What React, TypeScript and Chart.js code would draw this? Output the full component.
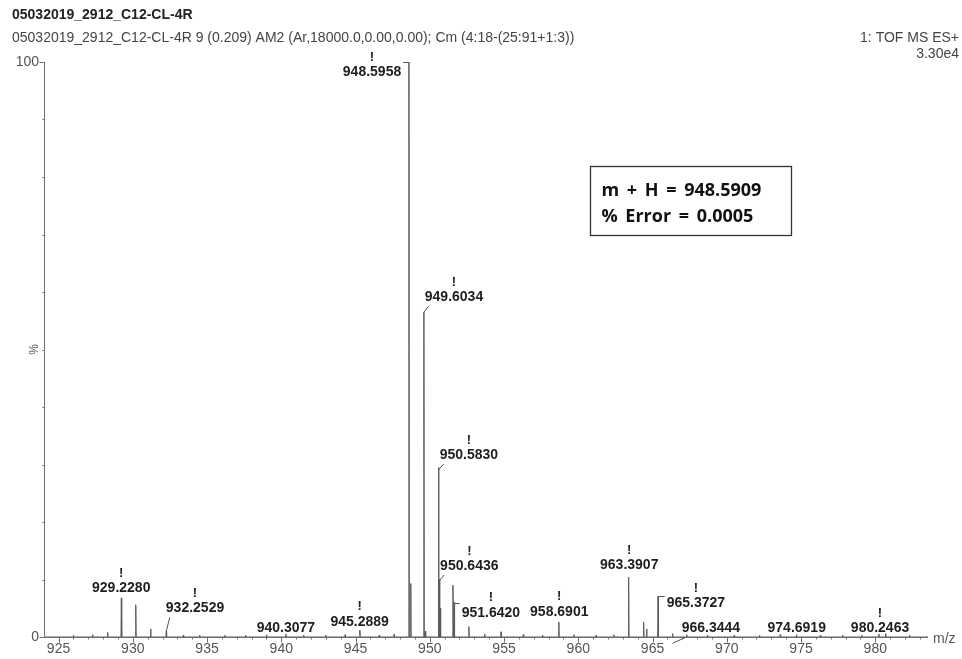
import React, { useEffect, useRef } from "react";
import { Chart, registerables } from "chart.js";

Chart.register(...registerables);

// ---------- text ----------
const titleText = "05032019_2912_C12-CL-4R";
const subtitleText =
  "05032019_2912_C12-CL-4R 9 (0.209) AM2 (Ar,18000.0,0.00,0.00); Cm (4:18-(25:91+1:3))";
const instrumentText = "1: TOF MS ES+";
const scaleText = "3.30e4";
const boxLines = ["m + H = 948.5909", "% Error = 0.0005"];
const xAxisTitle = "m/z";
const yAxisTitle = "%";

// ---------- axes ----------
const xMin = 924.02;
const xMax = 983.55;
const xTickLabels = [925, 930, 935, 940, 945, 950, 955, 960, 965, 970, 975, 980];
const yTickLabels = [0, 100];

// ---------- labelled peaks ----------
const labeledMz = [
  948.5958, 949.6034, 950.583, 950.6436, 951.642, 929.228, 932.2529, 940.3077,
  945.2889, 958.6901, 963.3907, 965.3727, 966.3444, 974.6919, 980.2463,
];
const labeledIntensity = [
  100, 56.5, 29.5, 10.0, 6.0, 6.8, 1.0, 0.5, 1.2, 2.6, 10.4, 7.1, 0.6, 0.4, 0.5,
];
// where each label sits (data units) and how it is tied to its peak
const labelMz = [
  946.11, 951.63, 952.63, 952.66, 954.11, 929.22, 934.19, 940.31, 945.28, 958.72,
  963.43, 967.92, 968.93, 974.71, 980.32,
];
const labelPct = [
  98.26, 59.13, 31.65, 12.35, 4.23, 8.47, 4.99, 1.51, 2.66, 4.4, 12.52, 5.86, 1.51,
  1.51, 1.51,
];
const labelBang = [1, 1, 1, 1, 1, 1, 1, 0, 1, 1, 1, 1, 0, 0, 1];
const labelLink = [
  "left", "diag", "diag", "diag", "right", "none", "diag", "none", "none", "none",
  "none", "right", "diag", "none", "none",
];

// ---------- unlabelled peaks / baseline bumps ----------
const minorMz = [
  926.0, 927.3, 928.3, 930.2, 931.2, 933.4, 934.5, 936.2, 937.6, 939.0, 941.5, 943.0,
  944.3, 946.6, 947.6, 948.72, 949.7, 950.72, 951.56, 952.63, 953.7, 954.8, 956.3,
  957.6, 959.7, 961.2, 962.4, 964.4, 964.6, 967.3, 968.7, 970.5, 972.2, 973.6, 976.3,
  977.8, 979.1, 980.7, 982.3,
];
const minorIntensity = [
  0.3, 0.4, 0.8, 5.6, 1.4, 0.3, 0.3, 0.3, 0.3, 0.4, 0.3, 0.3, 0.4, 0.3, 0.5, 9.3, 1.0,
  5.0, 9.0, 1.8, 0.5, 0.9, 0.4, 0.3, 0.4, 0.3, 0.4, 2.6, 1.4, 0.4, 0.3, 0.3, 0.3, 0.4,
  0.3, 0.3, 0.3, 0.6, 0.3,
];

const FONT = '"Liberation Sans", Arial, sans-serif';

function buildSpectrum() {
  const peaks: { x: number; y: number }[] = [];
  labeledMz.forEach((m, i) => peaks.push({ x: m, y: labeledIntensity[i] }));
  minorMz.forEach((m, i) => peaks.push({ x: m, y: minorIntensity[i] }));
  peaks.sort((a, b) => a.x - b.x);
  const pts: { x: number; y: number }[] = [{ x: xMin, y: 0 }];
  const hw = 0.025;
  peaks.forEach((p) => {
    pts.push({ x: p.x - hw, y: 0 });
    pts.push({ x: p.x, y: p.y });
    pts.push({ x: p.x + hw, y: 0 });
  });
  pts.push({ x: xMax, y: 0 });
  return pts;
}

const overlayPlugin = {
  id: "msOverlay",
  afterDraw(chart: any) {
    const ctx: CanvasRenderingContext2D = chart.ctx;
    const xs = chart.scales.x;
    const ys = chart.scales.y;
    const a = chart.chartArea;
    ctx.save();

    // axes lines
    ctx.strokeStyle = "#6f6f6f";
    ctx.lineWidth = 1;
    ctx.beginPath();
    ctx.moveTo(a.left + 0.5, a.top);
    ctx.lineTo(a.left + 0.5, a.bottom + 0.5);
    ctx.lineTo(a.right, a.bottom + 0.5);
    ctx.stroke();

    // y ticks
    ctx.beginPath();
    for (let v = 0; v <= 100; v += 10) {
      const y = Math.round(ys.getPixelForValue(v)) + 0.5;
      const len = v === 0 || v === 100 ? 5 : 2;
      ctx.moveTo(a.left + 0.5 - len, y);
      ctx.lineTo(a.left + 0.5, y);
    }
    // x ticks
    for (let v = Math.ceil(xMin); v <= xMax; v++) {
      const x = Math.round(xs.getPixelForValue(v)) + 0.5;
      const len = v % 5 === 0 ? 5 : 2;
      ctx.moveTo(x, a.bottom + 0.5);
      ctx.lineTo(x, a.bottom + 0.5 + len);
    }
    ctx.stroke();

    // tick labels
    ctx.fillStyle = "#555";
    ctx.font = `14px ${FONT}`;
    ctx.textAlign = "right";
    ctx.textBaseline = "middle";
    yTickLabels.forEach((v) => ctx.fillText(String(v), a.left - 5, ys.getPixelForValue(v)));
    ctx.textAlign = "center";
    ctx.textBaseline = "top";
    xTickLabels.forEach((v) => ctx.fillText(String(v), xs.getPixelForValue(v), a.bottom + 5));
    ctx.textAlign = "left";
    ctx.textBaseline = "middle";
    ctx.fillText(xAxisTitle, a.right + 5, a.bottom + 2);

    // % title
    ctx.save();
    ctx.translate(a.left - 9, (a.top + a.bottom) / 2);
    ctx.rotate(-Math.PI / 2);
    ctx.font = `12px ${FONT}`;
    ctx.textAlign = "center";
    ctx.textBaseline = "middle";
    ctx.fillText(yAxisTitle, 0, 0);
    ctx.restore();

    // header
    ctx.fillStyle = "#222";
    ctx.font = `bold 14px ${FONT}`;
    ctx.textAlign = "left";
    ctx.textBaseline = "middle";
    ctx.fillText(titleText, 12, 15);
    ctx.fillStyle = "#444";
    ctx.font = `14px ${FONT}`;
    ctx.fillText(subtitleText, 12, 38);
    ctx.textAlign = "right";
    ctx.fillText(instrumentText, 959, 38);
    ctx.fillText(scaleText, 959, 54);

    // peak labels
    labeledMz.forEach((m, i) => {
      const text = m.toFixed(4);
      ctx.font = `bold 14px ${FONT}`;
      const px = xs.getPixelForValue(labelMz[i]);
      const py = ys.getPixelForValue(labelPct[i]);
      const w = ctx.measureText(text).width;
      const peakX = xs.getPixelForValue(m);
      const peakY = ys.getPixelForValue(labeledIntensity[i]);
      ctx.fillStyle = "#1e1e1e";
      ctx.textAlign = "center";
      ctx.textBaseline = "middle";
      ctx.fillText(text, px, py);
      if (labelBang[i]) {
        ctx.font = `bold 13px ${FONT}`;
        ctx.fillText("!", px, py - 15);
      }
      ctx.strokeStyle = "#555";
      ctx.lineWidth = 1;
      const link = labelLink[i];
      ctx.beginPath();
      if (link === "left") {
        const y = Math.round(peakY) + 0.5;
        ctx.moveTo(px + w / 2 + 2, y);
        ctx.lineTo(peakX, y);
      } else if (link === "right") {
        const y = Math.round(peakY) + 0.5;
        ctx.moveTo(peakX, y);
        ctx.lineTo(px - w / 2 - 2, y);
      } else if (link === "diag") {
        ctx.moveTo(px - w / 2 + 4, py + 9);
        ctx.lineTo(peakX, Math.max(peakY, py + 15));
      }
      ctx.stroke();
    });

    // result box
    const bx1 = xs.getPixelForValue(960.82);
    const bx2 = xs.getPixelForValue(974.36);
    const by1 = ys.getPixelForValue(82.0);
    const by2 = ys.getPixelForValue(70.0);
    ctx.fillStyle = "#fff";
    ctx.fillRect(bx1, by1, bx2 - bx1, by2 - by1);
    ctx.strokeStyle = "#333";
    ctx.lineWidth = 1.3;
    ctx.strokeRect(Math.round(bx1) + 0.5, Math.round(by1) + 0.5, Math.round(bx2 - bx1), Math.round(by2 - by1));
    ctx.fillStyle = "#111";
    ctx.font = `bold 18px "Open Sans", ${FONT}`;
    ctx.textAlign = "left";
    ctx.textBaseline = "middle";
    (ctx as any).wordSpacing = "3px";
    const lh = (by2 - by1) / 2.6;
    ctx.fillText(boxLines[0], bx1 + 11, by1 + lh * 0.95);
    ctx.fillText(boxLines[1], bx1 + 11, by1 + lh * 1.95);
    (ctx as any).wordSpacing = "0px";

    ctx.restore();
  },
};

export default function App() {
  const ref = useRef<HTMLCanvasElement>(null);
  useEffect(() => {
    const canvas = ref.current!;
    const chart = new Chart(canvas, {
      type: "line",
      data: {
        datasets: [
          {
            data: buildSpectrum(),
            borderColor: "#5a5a5a",
            borderWidth: 1,
            pointRadius: 0,
            tension: 0,
            fill: false,
          },
        ],
      },
      options: {
        animation: false,
        responsive: false,
        devicePixelRatio: 1,
        parsing: false,
        normalized: true,
        layout: { padding: { left: 44, right: 34, top: 62, bottom: 22 } },
        scales: {
          x: { type: "linear", min: xMin, max: xMax, display: false },
          y: { type: "linear", min: 0, max: 100, display: false },
        },
        plugins: { legend: { display: false }, tooltip: { enabled: false } },
      },
      plugins: [overlayPlugin],
    } as any);
    return () => chart.destroy();
  }, []);
  return (
    <div style={{ position: "absolute", left: 0, top: 0, width: 962, height: 659, background: "#fff" }}>
      <canvas ref={ref} width={962} height={659} style={{ display: "block", width: 962, height: 659 }} />
    </div>
  );
}
